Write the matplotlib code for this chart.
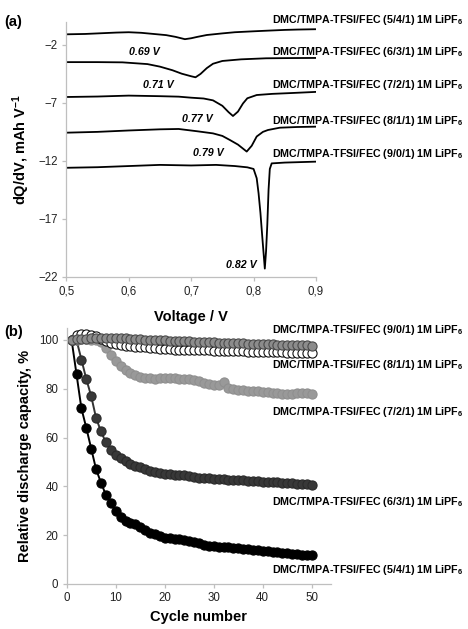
import matplotlib
matplotlib.use("Agg")
import matplotlib.pyplot as plt
from matplotlib.ticker import FuncFormatter

plt.rcParams['font.family'] = ['Liberation Sans', 'DejaVu Sans']
plt.rcParams['mathtext.fontset'] = 'custom'
plt.rcParams['mathtext.rm'] = 'Liberation Sans'
plt.rcParams['mathtext.bf'] = 'Liberation Sans:bold'
plt.rcParams['mathtext.it'] = 'Liberation Sans:italic'

# ---------------- Panel (a) data: dQ/dV vs voltage ----------------
v_541 = [0.50, 0.53, 0.555, 0.58, 0.60, 0.62, 0.64, 0.66, 0.675, 0.69, 0.70, 0.71, 0.725, 0.75, 0.77, 0.80, 0.82, 0.85, 0.87, 0.90]
d_541 = [-1.08, -1.05, -0.99, -0.93, -0.90, -0.95, -1.05, -1.15, -1.30, -1.50, -1.42, -1.30, -1.14, -1.00, -0.90, -0.82, -0.77, -0.70, -0.67, -0.64]

v_631 = [0.50, 0.55, 0.59, 0.63, 0.65, 0.67, 0.685, 0.70, 0.707, 0.715, 0.725, 0.735, 0.75, 0.78, 0.82, 0.86, 0.90]
d_631 = [-3.48, -3.48, -3.50, -3.65, -3.87, -4.18, -4.48, -4.70, -4.79, -4.50, -4.00, -3.62, -3.38, -3.24, -3.15, -3.13, -3.12]

v_721 = [0.50, 0.55, 0.60, 0.65, 0.68, 0.70, 0.72, 0.735, 0.75, 0.76, 0.767, 0.775, 0.783, 0.79, 0.805, 0.83, 0.86, 0.90]
d_721 = [-6.49, -6.45, -6.37, -6.42, -6.46, -6.55, -6.62, -6.78, -7.25, -7.80, -8.13, -7.75, -7.05, -6.60, -6.32, -6.22, -6.15, -6.05]

v_811 = [0.50, 0.55, 0.60, 0.65, 0.68, 0.71, 0.735, 0.75, 0.762, 0.775, 0.789, 0.797, 0.805, 0.815, 0.823, 0.842, 0.87, 0.90]
d_811 = [-9.57, -9.50, -9.38, -9.28, -9.25, -9.45, -9.63, -9.85, -10.20, -10.60, -11.20, -10.70, -9.90, -9.50, -9.34, -9.14, -9.08, -9.05]

v_901 = [0.50, 0.55, 0.60, 0.65, 0.70, 0.74, 0.77, 0.79, 0.80, 0.805, 0.808, 0.811, 0.814, 0.818, 0.820, 0.822, 0.824, 0.826, 0.829, 0.835, 0.85, 0.90]
d_901 = [-12.60, -12.55, -12.45, -12.35, -12.40, -12.35, -12.45, -12.56, -12.70, -13.50, -14.80, -16.50, -18.60, -21.30, -19.80, -17.50, -14.50, -12.70, -12.22, -12.20, -12.15, -12.07]

peak_labels = ["0.69 V", "0.71 V", "0.77 V", "0.79 V", "0.82 V"]

# ---------------- Panel (b) data: relative discharge capacity ----------------
cycles = list(range(1, 51))
cap_541 = [100, 86, 72, 64, 55.5, 47, 41.5, 36.5, 33, 30, 27.5, 25.8, 25, 24.5, 23.5, 22, 21, 20.3, 19.5, 19,
           18.8, 18.6, 18.4, 18.2, 17.8, 17.2, 16.6, 16.1, 15.7, 15.4, 15.2, 15.1, 15.0, 14.9, 14.7, 14.4, 14.2, 14.0, 13.8, 13.6,
           13.4, 13.2, 13.0, 12.8, 12.6, 12.4, 12.2, 12.0, 11.8, 11.7]
cap_631 = [100, 100, 92, 84, 77, 68, 62.5, 58, 55, 53, 51.5, 50.3, 49.3, 48.5, 47.8, 47, 46.3, 45.8, 45.4, 45.1,
           44.9, 44.7, 44.6, 44.5, 44.2, 43.9, 43.6, 43.4, 43.3, 43.2, 43.0, 42.9, 42.8, 42.7, 42.6, 42.5, 42.4, 42.2, 42.1, 42.0,
           41.8, 41.7, 41.6, 41.4, 41.3, 41.2, 41.0, 40.9, 40.8, 40.7]
cap_721 = [100, 100.2, 100.3, 100.3, 100.2, 100, 99, 96.8, 93.8, 91.2, 89.3, 87.8, 86.6, 85.7, 85, 84.5, 84.3, 84.2, 84.3, 84.5,
           84.4, 84.3, 84.2, 84.2, 83.9, 83.5, 83.0, 82.5, 82.0, 81.7, 81.6, 82.9, 80.4, 80.0, 79.7, 79.5, 79.3, 79.1, 78.9, 78.7,
           78.5, 78.3, 78.1, 78.0, 77.8, 77.8, 78.3, 78.4, 78.1, 78.0]
cap_811 = [100, 102, 102.5, 102.4, 102.1, 101.5, 100.5, 99.5, 98.8, 98.3, 98.0, 97.7, 97.5, 97.3, 97.2, 97.0, 96.8, 96.6, 96.4, 96.3,
           96.2, 96.1, 96.1, 96.0, 95.9, 95.9, 95.8, 95.7, 95.7, 95.6, 95.5, 95.5, 95.4, 95.4, 95.3, 95.3, 95.2, 95.2, 95.1, 95.1,
           95.0, 95.0, 94.9, 94.9, 94.8, 94.8, 94.7, 94.7, 94.6, 94.6]
cap_901 = [100, 100.3, 100.5, 100.6, 100.7, 100.8, 100.9, 101.0, 101.0, 100.9, 100.8, 100.7, 100.5, 100.4, 100.3, 100.2, 100.1, 100.0, 99.9, 99.8,
           99.7, 99.6, 99.5, 99.4, 99.4, 99.3, 99.2, 99.1, 99.1, 99.0, 98.9, 98.9, 98.8, 98.7, 98.7, 98.6, 98.5, 98.5, 98.4, 98.3,
           98.3, 98.2, 98.1, 98.1, 98.0, 97.9, 97.9, 97.8, 97.8, 97.7]

ratios = ["5/4/1", "6/3/1", "7/2/1", "8/1/1", "9/0/1"]

W, H = 468, 629
fig = plt.figure(figsize=(W / 100, H / 100), dpi=100)

def fx(px):
    return px / W

def fy(py):
    return 1 - py / H

axis_grey = '#bfbfbf'

def style_axes(ax):
    for s in ['top', 'right']:
        ax.spines[s].set_visible(False)
    for s in ['left', 'bottom']:
        ax.spines[s].set_color(axis_grey)
        ax.spines[s].set_linewidth(0.9)
    ax.tick_params(axis='both', direction='out', length=3, width=0.9, color=axis_grey,
                   labelsize=8.3, labelcolor='#222222', pad=3)

# ---------------- Panel (a) ----------------
axA = fig.add_axes([fx(66.3), fy(276.7), fx(316) - fx(66.3), fy(21.8) - fy(276.7)])
curves = [(v_541, d_541), (v_631, d_631), (v_721, d_721), (v_811, d_811), (v_901, d_901)]
for v, d in curves:
    axA.plot(v, d, color='black', lw=1.3, solid_joinstyle='round')
axA.set_xlim(0.5, 0.9)
axA.set_ylim(-22, 0)
axA.set_xticks([0.5, 0.6, 0.7, 0.8, 0.9])
axA.set_yticks([-22, -17, -12, -7, -2])
axA.xaxis.set_major_formatter(FuncFormatter(lambda x, p: f"{x:.1f}".replace('.', ',')))
style_axes(axA)
axA.set_xlabel("Voltage / V", fontsize=10.5, fontweight='bold', labelpad=9)
axA.set_ylabel(r"dQ/dV, mAh V$^{\mathbf{-1}}$", fontsize=10.5, fontweight='bold', labelpad=5)

label_style = dict(fontsize=7.7, fontweight='bold', ha='right', va='center')
for r, py in zip(ratios, [20, 51.7, 85, 120.7, 154.3]):
    fig.text(fx(463), fy(py), f"DMC/TMPA-TFSI/FEC ({r}) 1M LiPF$_\\mathbf{{6}}$", **label_style)

for t, (px, py) in zip(peak_labels, [(144, 51.7), (158, 85), (197, 119), (208, 153.3), (241, 265)]):
    fig.text(fx(px), fy(py), t, fontsize=7.7, fontweight='bold', fontstyle='italic', ha='center', va='center')

fig.text(fx(4), fy(21.7), "(a)", fontsize=10.5, fontweight='bold', ha='left', va='center')

# ---------------- Panel (b) ----------------
axB = fig.add_axes([fx(66.7), fy(584), fx(331.3) - fx(66.7), fy(327.8) - fy(584)])
series_style = [
    (cap_541, dict(color='black', mfc='black', mec='black')),
    (cap_631, dict(color='#333333', mfc='#383838', mec='#2a2a2a')),
    (cap_721, dict(color='#999999', mfc='#999999', mec='#8f8f8f')),
    (cap_811, dict(color='#111111', mfc='white', mec='#111111')),
    (cap_901, dict(color='#555555', mfc='#8c8c8c', mec='#4a4a4a')),
]
for vals, st in series_style:
    axB.plot(cycles, vals, marker='o', ms=6.6, mew=0.8, lw=1.4, **st)
axB.set_xlim(0, 54)
axB.set_ylim(0, 105)
axB.set_xticks([0, 10, 20, 30, 40, 50])
axB.set_yticks([0, 20, 40, 60, 80, 100])
style_axes(axB)
axB.set_xlabel("Cycle number", fontsize=10.5, fontweight='bold', labelpad=4)
axB.set_ylabel("Relative discharge capacity, %", fontsize=10.5, fontweight='bold', labelpad=5)

for r, py in zip(["9/0/1", "8/1/1", "7/2/1", "6/3/1", "5/4/1"], [330, 365, 411.7, 501.7, 570]):
    fig.text(fx(463), fy(py), f"DMC/TMPA-TFSI/FEC ({r}) 1M LiPF$_\\mathbf{{6}}$", **label_style)

fig.text(fx(4), fy(331.7), "(b)", fontsize=10.5, fontweight='bold', ha='left', va='center')

fig.savefig("out.png", dpi=100)
